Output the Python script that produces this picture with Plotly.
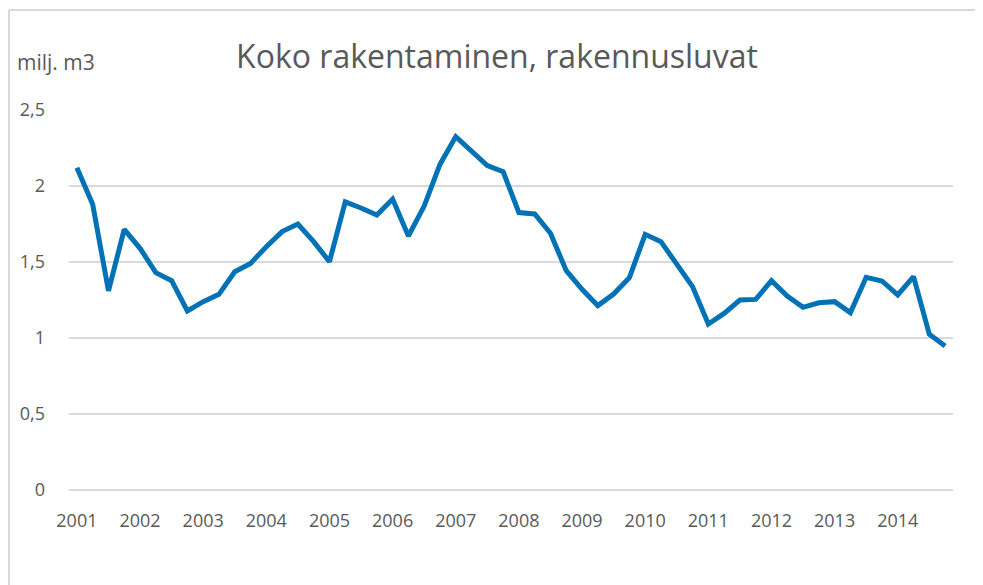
import plotly.graph_objects as go

# Quarterly data 2001Q1 - 2014Q4 (milj. m3)
years = [str(y) for y in range(2001, 2015)]
quarters = [f"{y}Q{q}" for y in range(2001, 2015) for q in range(1, 5)]
values = [
    2.12, 1.88, 1.31, 1.715, 1.59, 1.43, 1.377, 1.178,
    1.239, 1.287, 1.436, 1.491, 1.60, 1.70, 1.75, 1.634,
    1.502, 1.895, 1.855, 1.809, 1.914, 1.671, 1.868, 2.142,
    2.325, 2.232, 2.134, 2.094, 1.825, 1.816, 1.689, 1.443,
    1.320, 1.213, 1.289, 1.397, 1.682, 1.634, 1.485, 1.338,
    1.092, 1.162, 1.250, 1.254, 1.377, 1.276, 1.202, 1.232,
    1.239, 1.167, 1.399, 1.375, 1.283, 1.404, 1.024, 0.947,
]
y_ticks = [0, 0.5, 1, 1.5, 2, 2.5]
y_ticktext = ["0", "0,5", "1", "1,5", "2", "2,5"]

title_text = "Koko rakentaminen, rakennusluvat"
unit_text = "milj. m3"

FONT = "Open Sans"
TXT = "#595959"
GRID = "#d9d9d9"

idx = list(range(len(quarters)))
x_tickvals = [i for i, q in enumerate(quarters) if q.endswith("Q1")]

fig = go.Figure()
fig.add_trace(go.Scatter(
    x=idx, y=values, mode="lines",
    line=dict(color="#0072B5", width=5, shape="linear"),
    hovertext=quarters, showlegend=False,
))

# figure is placed 8px in from the page corner (body margin)
W, H = 983, 585
ml, mt = 61, 102
pw, ph = 884, 380
mr, mb = W - ml - pw, H - mt - ph

def px_x(p):
    return (p - ml) / pw

def px_y(p):
    return (H - mb - p) / ph

fig.update_layout(
    width=W, height=H,
    margin=dict(l=ml, r=mr, t=mt, b=mb, pad=0),
    paper_bgcolor="white", plot_bgcolor="white",
    font=dict(family=FONT, color=TXT, size=18),
    title=dict(text=title_text, x=489 / W, xref="container", xanchor="center",
               y=1 - 49 / H, yref="container", yanchor="middle",
               font=dict(family=FONT, size=32, color=TXT)),
    xaxis=dict(
        range=[-0.5, len(quarters) - 0.5],
        tickmode="array", tickvals=x_tickvals, ticktext=years,
        showgrid=False, zeroline=False, showline=False, ticks="",
        tickfont=dict(family=FONT, size=18, color=TXT),
        ticklabelstandoff=18,
    ),
    yaxis=dict(
        range=[0, 2.5],
        tickmode="array", tickvals=y_ticks, ticktext=y_ticktext,
        showgrid=True, gridcolor=GRID, gridwidth=2,
        zeroline=True, zerolinecolor=GRID, zerolinewidth=2,
        showline=False, ticks="",
        tickfont=dict(family=FONT, size=18, color=TXT),
        ticklabelstandoff=23,
    ),
    annotations=[dict(
        text=unit_text, xref="paper", yref="paper",
        x=px_x(7), y=px_y(54), xanchor="left", yanchor="middle",
        showarrow=False, font=dict(family=FONT, size=21, color=TXT),
    )],
    shapes=[
        dict(type="line", xref="paper", yref="paper",
             x0=px_x(1), x1=px_x(W), y0=px_y(2), y1=px_y(2),
             line=dict(color=GRID, width=2), layer="below"),
        dict(type="line", xref="paper", yref="paper",
             x0=px_x(1), x1=px_x(1), y0=px_y(2), y1=px_y(H),
             line=dict(color=GRID, width=2), layer="below"),
    ],
)

fig.write_html("out.html")
